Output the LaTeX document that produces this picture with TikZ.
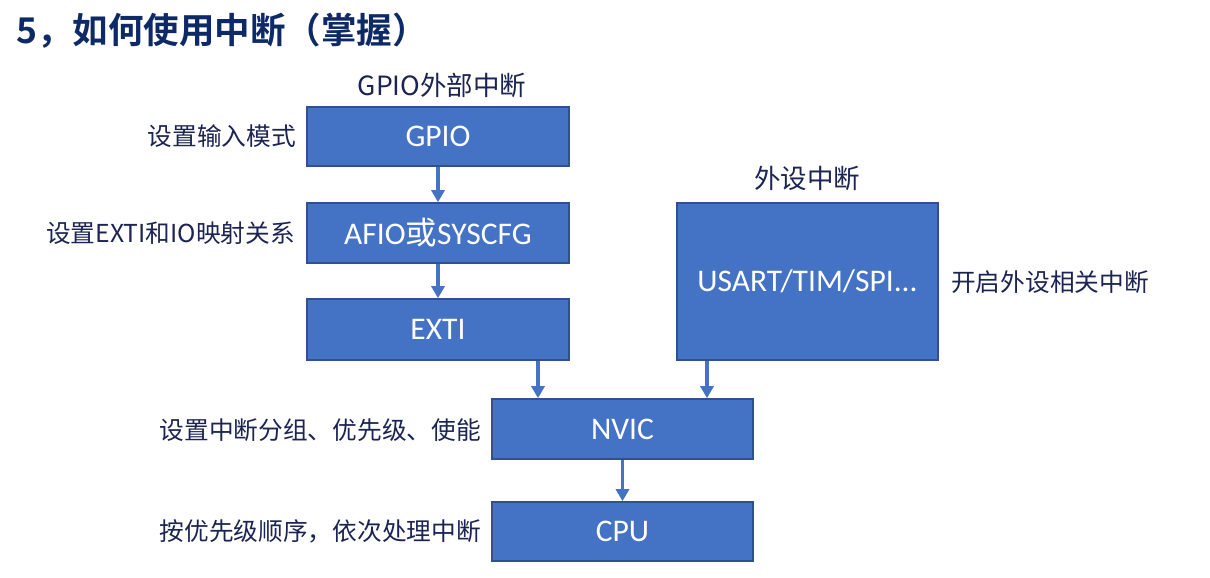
\documentclass[tikz,border=0pt]{standalone}
\usepackage{fontspec}
\usetikzlibrary{arrows.meta}
\newfontfamily\cjk{Noto Sans CJK SC}
\newfontfamily\cjkbold{Noto Sans CJK SC Bold}
\newfontfamily\latinfont{Carlito}
\definecolor{boxfill}{HTML}{4472C4}
\definecolor{boxline}{HTML}{2F528F}
\definecolor{labelcol}{HTML}{1B2452}
\definecolor{titlecol}{HTML}{0E2A66}
\tikzset{
  box/.style={draw=boxline, line width=1.6pt, fill=boxfill, text=white, inner sep=0pt,
    font=\latinfont\fontsize{31.5}{35}\selectfont, minimum width=262pt},
  lbl/.style={text=labelcol, inner sep=0pt, font=\cjk\fontsize{24.7}{28}\selectfont},
  head/.style={text=labelcol, inner sep=0pt, font=\cjk\fontsize{26.5}{30}\selectfont},
  flow/.style={draw=boxfill, line width=3.2pt, -{Triangle[width=13pt,length=12pt]}}
}
\begin{document}
\begin{tikzpicture}[x=1pt,y=-1pt]
\useasboundingbox (0,0) rectangle (1210,578);
% title
\node[anchor=west, inner sep=0pt, text=titlecol, font=\cjkbold\fontsize{35.5}{39}\selectfont] (title) at (16,31) {5，如何使用中断（掌握）};
% headings
\node[head] (h1) at (442,85) {GPIO外部中断};
\node[head] (h2) at (807,178) {外设中断};
% boxes
\node[box, minimum height=59pt] (gpio) at (438,136.5) {GPIO};
\node[box, minimum height=60pt] (afio) at (438,233) {AFIO{\cjk 或}SYSCFG};
\node[box, minimum height=61pt] (exti) at (438,329.5) {EXTI};
\node[box, minimum width=261pt, minimum height=157pt] (usart) at (807.5,281.5) {USART/TIM/SPI...};
\node[box, minimum width=261pt, minimum height=60pt] (nvic) at (622.5,429) {NVIC};
\node[box, minimum width=261pt, minimum height=59pt] (cpu) at (622.5,531.5) {CPU};
% labels
\node[lbl, anchor=east] (l1) at (296,136) {设置输入模式};
\node[lbl, anchor=east] (l2) at (295,233) {设置EXTI和IO映射关系};
\node[lbl, anchor=west] (l3) at (951,282) {开启外设相关中断};
\node[lbl, anchor=east] (l4) at (481,430) {设置中断分组、优先级、使能};
\node[lbl, anchor=east] (l5) at (481,531) {按优先级顺序，依次处理中断};
% arrow x positions
\coordinate (ax1) at (538,0);
\coordinate (ax2) at (707,0);
% arrows
\draw[flow] (gpio.south) -- (afio.north);
\draw[flow] (afio.south) -- (exti.north);
\draw[flow] (exti.south -| ax1) -- (nvic.north -| ax1);
\draw[flow] (usart.south -| ax2) -- (nvic.north -| ax2);
\draw[flow] (nvic.south) -- (cpu.north);
\end{tikzpicture}
\end{document}
